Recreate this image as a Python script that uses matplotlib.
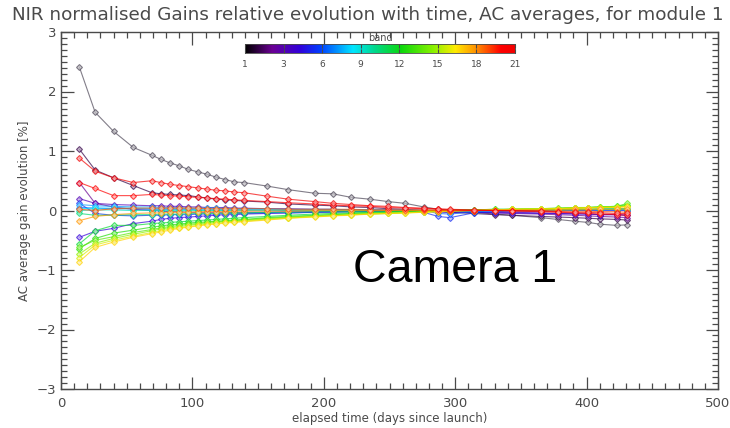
import numpy as np
import matplotlib
matplotlib.use("Agg")
import matplotlib.pyplot as plt
from matplotlib.colors import LinearSegmentedColormap, to_rgb
from matplotlib.ticker import MultipleLocator

days = [14, 26, 40, 55, 69, 76, 83, 90, 97, 104, 111, 118, 125, 132, 139, 157, 173, 193,
        207, 221, 235, 249, 262, 276, 287, 296, 314, 330, 343, 365, 378, 391, 401, 410, 423, 431]

band_01 = [2.41, 1.65, 1.33, 1.06, 0.93, 0.86, 0.80, 0.75, 0.69, 0.65, 0.61, 0.56, 0.52, 0.48, 0.47, 0.41, 0.35, 0.29, 0.28, 0.22, 0.19, 0.15, 0.12, 0.06, 0.02, 0.00, -0.03, -0.06, -0.08, -0.12, -0.15, -0.18, -0.20, -0.23, -0.25, -0.24]
band_02 = [1.03, 0.68, 0.55, 0.42, 0.30, 0.28, 0.27, 0.26, 0.25, 0.23, 0.21, 0.19, 0.18, 0.17, 0.16, 0.14, 0.11, 0.09, 0.08, 0.06, 0.05, 0.03, 0.02, 0.00, -0.02, -0.03, -0.05, -0.07, -0.08, -0.10, -0.11, -0.12, -0.13, -0.14, -0.15, -0.16]
band_03 = [0.47, 0.12, 0.06, 0.02, 0.00, -0.01, -0.02, -0.02, -0.03, -0.03, -0.03, -0.03, -0.03, -0.03, -0.03, -0.03, -0.02, -0.02, -0.02, -0.01, -0.01, -0.01, 0.00, 0.00, -0.01, -0.02, -0.03, -0.04, -0.05, -0.06, -0.07, -0.08, -0.09, -0.10, -0.11, -0.12]
band_04 = [0.20, 0.12, 0.10, 0.09, 0.08, 0.08, 0.07, 0.07, 0.06, 0.06, 0.05, 0.05, 0.05, 0.04, 0.04, 0.03, 0.03, 0.02, 0.02, 0.01, 0.01, 0.01, 0.00, 0.00, -0.01, -0.01, -0.02, -0.03, -0.03, -0.04, -0.05, -0.05, -0.06, -0.07, -0.07, -0.08]
band_05 = [-0.45, -0.35, -0.30, -0.22, -0.18, -0.15, -0.13, -0.12, -0.11, -0.10, -0.09, -0.08, -0.07, -0.07, -0.06, -0.05, -0.04, -0.03, -0.02, -0.02, -0.01, -0.01, 0.00, 0.00, -0.02, -0.03, -0.03, -0.04, -0.04, -0.05, -0.05, -0.06, -0.06, -0.07, -0.07, -0.08]
band_06 = [0.12, -0.05, -0.08, -0.09, -0.08, -0.08, -0.07, -0.07, -0.07, -0.06, -0.06, -0.06, -0.05, -0.05, -0.05, -0.04, -0.04, -0.03, -0.03, -0.02, -0.02, -0.01, -0.01, -0.03, -0.10, -0.12, -0.04, -0.02, -0.01, -0.01, 0.00, 0.00, 0.00, 0.00, 0.00, 0.00]
band_07 = [0.05, 0.04, 0.03, 0.03, 0.02, 0.02, 0.02, 0.02, 0.02, 0.01, 0.01, 0.01, 0.01, 0.01, 0.01, 0.01, 0.00, 0.00, 0.00, 0.00, 0.00, 0.00, 0.00, 0.00, -0.05, -0.06, -0.02, -0.01, 0.00, 0.00, 0.00, 0.01, 0.01, 0.01, 0.01, 0.01]
band_08 = [0.10, 0.08, 0.07, 0.06, 0.06, 0.05, 0.05, 0.05, 0.04, 0.04, 0.04, 0.04, 0.03, 0.03, 0.03, 0.03, 0.02, 0.02, 0.02, 0.01, 0.01, 0.01, 0.01, 0.00, 0.00, -0.01, -0.01, 0.00, 0.00, 0.00, 0.01, 0.01, 0.01, 0.02, 0.02, 0.02]
band_09 = [0.03, 0.04, 0.04, 0.04, 0.03, 0.03, 0.03, 0.03, 0.03, 0.03, 0.02, 0.02, 0.02, 0.02, 0.02, 0.02, 0.01, 0.01, 0.01, 0.01, 0.01, 0.00, 0.00, 0.00, 0.00, 0.00, 0.00, 0.01, 0.01, 0.01, 0.01, 0.02, 0.02, 0.02, 0.03, 0.03]
band_10 = [0.00, 0.01, 0.01, 0.00, 0.00, 0.00, 0.00, 0.00, 0.00, 0.00, 0.00, 0.00, 0.00, 0.00, 0.00, 0.00, 0.00, 0.00, 0.00, 0.00, 0.00, 0.00, 0.00, 0.00, 0.00, 0.00, 0.00, 0.00, 0.01, 0.01, 0.01, 0.01, 0.02, 0.02, 0.02, 0.02]
band_11 = [-0.05, -0.08, -0.08, -0.07, -0.07, -0.06, -0.06, -0.06, -0.05, -0.05, -0.05, -0.05, -0.04, -0.04, -0.04, -0.03, -0.03, -0.02, -0.02, -0.02, -0.01, -0.01, -0.01, 0.00, 0.00, 0.00, 0.00, 0.01, 0.01, 0.01, 0.02, 0.02, 0.02, 0.03, 0.03, 0.03]
band_12 = [-0.56, -0.34, -0.25, -0.25, -0.22, -0.21, -0.20, -0.19, -0.18, -0.17, -0.16, -0.15, -0.14, -0.13, -0.12, -0.10, -0.08, -0.06, -0.05, -0.04, -0.03, -0.02, -0.01, 0.00, 0.00, 0.01, 0.01, 0.02, 0.02, 0.03, 0.04, 0.05, 0.05, 0.06, 0.07, 0.10]
band_13 = [-0.64, -0.47, -0.38, -0.33, -0.28, -0.26, -0.24, -0.23, -0.21, -0.20, -0.19, -0.18, -0.17, -0.16, -0.15, -0.12, -0.10, -0.08, -0.07, -0.05, -0.04, -0.03, -0.02, -0.01, 0.00, 0.00, 0.01, 0.02, 0.02, 0.03, 0.03, 0.04, 0.05, 0.05, 0.06, 0.08]
band_14 = [-0.62, -0.50, -0.44, -0.37, -0.32, -0.29, -0.27, -0.25, -0.23, -0.22, -0.20, -0.19, -0.18, -0.17, -0.16, -0.13, -0.11, -0.09, -0.07, -0.06, -0.05, -0.04, -0.03, -0.02, -0.01, 0.00, 0.01, 0.01, 0.02, 0.02, 0.03, 0.04, 0.05, 0.06, 0.07, 0.12]
band_15 = [-0.73, -0.55, -0.47, -0.40, -0.34, -0.31, -0.29, -0.27, -0.25, -0.23, -0.22, -0.20, -0.19, -0.18, -0.17, -0.14, -0.12, -0.10, -0.08, -0.07, -0.06, -0.05, -0.04, -0.02, -0.01, 0.00, 0.00, 0.01, 0.02, 0.03, 0.04, 0.05, 0.05, 0.06, 0.06, 0.08]
band_16 = [-0.79, -0.58, -0.50, -0.43, -0.37, -0.34, -0.31, -0.29, -0.27, -0.25, -0.23, -0.22, -0.20, -0.19, -0.18, -0.15, -0.13, -0.10, -0.09, -0.07, -0.06, -0.05, -0.04, -0.03, -0.02, -0.01, 0.00, 0.01, 0.02, 0.03, 0.03, 0.04, 0.05, 0.05, 0.06, 0.07]
band_17 = [-0.86, -0.62, -0.53, -0.45, -0.39, -0.36, -0.33, -0.30, -0.28, -0.26, -0.24, -0.23, -0.21, -0.20, -0.19, -0.16, -0.13, -0.11, -0.09, -0.08, -0.06, -0.05, -0.04, -0.03, -0.02, -0.01, 0.00, 0.01, 0.02, 0.02, 0.03, 0.04, 0.04, 0.05, 0.05, 0.06]
band_18 = [-0.17, -0.10, -0.07, -0.05, -0.04, -0.04, -0.03, -0.03, -0.03, -0.02, -0.02, -0.02, -0.02, -0.01, -0.01, -0.01, -0.01, 0.00, 0.00, 0.00, 0.00, 0.00, 0.00, 0.00, 0.00, 0.00, 0.00, 0.01, 0.01, 0.01, 0.01, 0.02, 0.02, 0.02, 0.02, 0.03]
band_19 = [0.02, 0.00, 0.03, 0.04, 0.04, 0.04, 0.04, 0.04, 0.04, 0.04, 0.03, 0.03, 0.03, 0.03, 0.03, 0.03, 0.02, 0.02, 0.02, 0.02, 0.01, 0.01, 0.01, 0.01, 0.00, 0.00, 0.00, 0.00, 0.00, 0.00, -0.01, -0.01, -0.01, -0.02, -0.02, -0.03]
band_20 = [0.47, 0.37, 0.25, 0.25, 0.27, 0.26, 0.25, 0.24, 0.23, 0.22, 0.21, 0.20, 0.19, 0.18, 0.17, 0.15, 0.13, 0.11, 0.09, 0.08, 0.07, 0.05, 0.04, 0.03, 0.02, 0.01, 0.00, 0.00, -0.01, -0.02, -0.03, -0.04, -0.05, -0.06, -0.07, -0.08]
band_21 = [0.88, 0.66, 0.55, 0.47, 0.50, 0.47, 0.44, 0.42, 0.40, 0.38, 0.36, 0.34, 0.33, 0.31, 0.30, 0.24, 0.19, 0.15, 0.12, 0.10, 0.08, 0.07, 0.05, 0.04, 0.03, 0.02, 0.01, 0.00, 0.00, -0.01, -0.02, -0.03, -0.03, -0.04, -0.05, -0.05]

bands = [band_01, band_02, band_03, band_04, band_05, band_06, band_07, band_08, band_09, band_10,
         band_11, band_12, band_13, band_14, band_15, band_16, band_17, band_18, band_19, band_20, band_21]
band_numbers = list(range(1, 22))
cbar_tick_labels = ["1", "3", "6", "9", "12", "15", "18", "21"]

title = "NIR normalised Gains relative evolution with time, AC averages, for module 1"
xlabel = "elapsed time (days since launch)"
ylabel = "AC average gain evolution [%]"
annotation = "Camera 1"

cmap = LinearSegmentedColormap.from_list("idl_rainbow", [
    (0.00, (0.0, 0.0, 0.0)),
    (0.10, (0.42, 0.0, 0.58)),
    (0.20, (0.20, 0.0, 0.85)),
    (0.28, (0.0, 0.25, 1.0)),
    (0.40, (0.0, 0.90, 1.0)),
    (0.48, (0.0, 0.85, 0.55)),
    (0.58, (0.05, 0.85, 0.05)),
    (0.70, (0.55, 0.95, 0.0)),
    (0.78, (1.0, 0.92, 0.0)),
    (0.86, (1.0, 0.55, 0.0)),
    (0.95, (1.0, 0.0, 0.0)),
    (1.00, (0.95, 0.0, 0.0)),
])

W, H = 730, 428
fig = plt.figure(figsize=(W / 100, H / 100), dpi=100)
ax = fig.add_axes([61 / W, 1 - 389 / H, (718 - 61) / W, (389 - 32) / H])

text_col = "#4a4a4a"
for b, vals in zip(band_numbers, bands):
    c = np.array(to_rgb(cmap((b - 1) / 20)))
    if b == 1:
        c = np.array([0.30, 0.28, 0.34])
    light = 0.35 * c + 0.65
    ax.plot(days, vals, color=c, lw=0.8, alpha=0.7, marker="D", ms=3.0,
            mec=c, mfc=light, mew=0.8, zorder=2 + b)

ax.set_xlim(0, 500)
ax.set_ylim(-3, 3)
ax.xaxis.set_major_locator(MultipleLocator(100))
ax.xaxis.set_minor_locator(MultipleLocator(10))
ax.yaxis.set_major_locator(MultipleLocator(1))
ax.yaxis.set_minor_locator(MultipleLocator(0.1))
ax.tick_params(which="both", direction="in", top=True, right=True, colors=text_col,
               labelsize=9.5, width=0.9)
ax.tick_params(which="major", length=9)
ax.tick_params(which="minor", length=4)
ax.tick_params(axis="x", pad=6)
for s in ax.spines.values():
    s.set_color(text_col)
    s.set_linewidth(1.0)

ax.set_xlabel(xlabel, fontsize=8.5, color=text_col, labelpad=1)
ax.set_ylabel(ylabel, fontsize=8.5, color=text_col, labelpad=4)
fig.text(368 / W, 1 - 15 / H, title, ha="center", va="center", fontsize=13.2, color=text_col)

ax.text((353 - 61) / 657, (389 - 270) / 357, annotation, transform=ax.transAxes,
        ha="left", va="center", fontsize=33.5, family="Liberation Sans", color="black")

# colorbar
cax = fig.add_axes([245 / W, 1 - 53 / H, (515 - 245) / W, 9 / H])
grad = np.linspace(1, 21, 256).reshape(1, -1)
cax.imshow(grad, aspect="auto", cmap=cmap, extent=[1, 21, 0, 1], vmin=1, vmax=21)
cax.set_yticks([])
cax.set_xticks(np.linspace(1, 21, 8))
cax.set_xticklabels(cbar_tick_labels)
cax.tick_params(axis="x", direction="in", length=3, labelsize=6.5, colors=text_col,
                top=True, pad=5)
for s in cax.spines.values():
    s.set_color(text_col)
    s.set_linewidth(0.6)
cax.set_title("band", fontsize=7, color=text_col, pad=2)

fig.savefig("out.png", dpi=100)
